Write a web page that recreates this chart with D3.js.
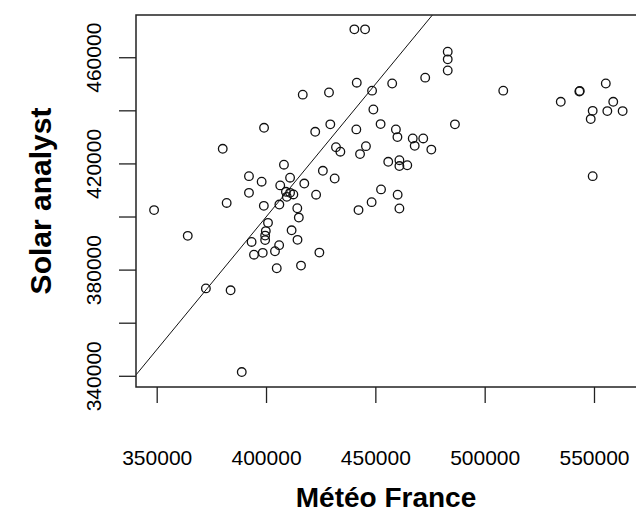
<!DOCTYPE html>
<html>
<head>
<meta charset="utf-8">
<script src="https://cdn.jsdelivr.net/npm/d3@7"></script>
<style>
html,body{margin:0;padding:0;background:#fff;}
svg{display:block;}
text{font-family:"Liberation Sans",Arial,Helvetica,sans-serif;fill:#000;}
</style>
</head>
<body>
<svg id="chart" width="636" height="517"></svg>
<script>
// Data
const meteoFrance = [440400,445300,483100,483100,483100,472800,441500,457700,416800,428800,
  448500,508500,449100,399100,422500,429400,441300,452400,459400,460100,
  467100,471900,468000,475600,486400,380200,432000,434000,445700,443000,
  455900,461000,461000,464600,408200,392200,398000,411000,406500,417500,
  426000,431400,392200,409100,411000,412500,409500,422900,452600,460200,
  382000,399000,406100,414300,415000,442300,448300,461000,348800,364200,
  400900,399900,399600,399600,393400,411700,414400,406000,404100,394500,
  398500,424400,404900,416000,372500,383800,388900,534800,543300,543500,
  555400,558800,549400,548500,556100,563100,549400];
const solarAnalyst = [470700,470700,462300,459400,455200,452500,450600,450300,446100,446900,
  447600,447600,440500,433600,432100,434900,433000,435000,433000,430100,
  429600,429600,426800,425400,434900,425700,426300,424600,426700,423700,
  420800,421400,419200,419500,419700,415400,413300,414800,411900,412600,
  417400,414500,409100,409500,409100,408500,407600,408400,410400,408400,
  405300,404200,404700,403300,399800,402600,405600,403200,402600,392900,
  397800,394700,393000,391300,390600,395000,391400,389400,387100,385800,
  386500,386600,380700,381700,373100,372400,341600,443400,447300,447500,
  450300,443400,440000,436900,439900,439900,415400];
const xTicks = [350000,400000,450000,500000,550000];
const yTicks = [340000,360000,380000,400000,420000,440000,460000];
const yTickLabels = ["340000","","380000","","420000","","460000"];
const xDomain = [340533, 571041];
const yDomain = [335966, 476098];
const lineIntercept = 0, lineSlope = 1;
const xTitle = "Météo France";
const yTitle = "Solar analyst";

const svg = d3.select("#chart");
const box = {left:136, top:15, right:640, bottom:387};

const x = d3.scaleLinear().domain(xDomain).range([box.left, box.right]);
const y = d3.scaleLinear().domain(yDomain).range([box.bottom, box.top]);

svg.append("defs").append("clipPath").attr("id","clip")
  .append("rect").attr("x",box.left).attr("y",box.top)
  .attr("width",box.right-box.left).attr("height",box.bottom-box.top);

// axes
const xAxis = svg.append("g").attr("transform",`translate(0,${box.bottom})`)
  .call(d3.axisBottom(x).tickValues(xTicks).tickFormat(d3.format("d")).tickSizeOuter(0).tickSizeInner(16).tickPadding(47));
const yAxis = svg.append("g").attr("transform",`translate(${box.left},0)`)
  .call(d3.axisLeft(y).tickValues(yTicks).tickFormat((d,i)=>yTickLabels[i]).tickSizeOuter(0).tickSizeInner(17));
[xAxis,yAxis].forEach(g=>{
  g.select(".domain").remove();
  g.selectAll(".tick line").attr("stroke","#222").attr("stroke-width",1.3);
  g.selectAll(".tick text").attr("font-size",21).attr("fill","#000");
});
yAxis.selectAll(".tick text")
  .attr("transform",function(d){return `translate(${93-box.left},${y(d)}) rotate(-90)`;})
  .attr("x",0).attr("y",0).attr("dy","0.36em").attr("text-anchor","middle");
yAxis.selectAll(".tick").attr("transform",null);
yAxis.selectAll(".tick line").attr("transform",d=>`translate(0,${y(d)})`);

// reference line y = a + b x
const plot = svg.append("g").attr("clip-path","url(#clip)");
plot.append("line")
  .attr("x1",x(xDomain[0])).attr("y1",y(lineIntercept+lineSlope*xDomain[0]))
  .attr("x2",x(xDomain[1])).attr("y2",y(lineIntercept+lineSlope*xDomain[1]))
  .attr("stroke","#111").attr("stroke-width",1);

// points
plot.selectAll("circle").data(meteoFrance.map((v,i)=>[v,solarAnalyst[i]]))
  .enter().append("circle")
  .attr("cx",d=>x(d[0])).attr("cy",d=>y(d[1])).attr("r",4.3)
  .attr("fill","none").attr("stroke","#111").attr("stroke-width",1.3);

// box
svg.append("rect").attr("x",box.left).attr("y",box.top)
  .attr("width",box.right-box.left).attr("height",box.bottom-box.top)
  .attr("fill","none").attr("stroke","#222").attr("stroke-width",1.5);

// titles
svg.append("text").attr("x",386).attr("y",507).attr("text-anchor","middle")
  .attr("font-size",28).attr("font-weight","bold").text(xTitle);
svg.append("text").attr("transform","translate(51,201) rotate(-90)").attr("text-anchor","middle")
  .attr("font-size",30).attr("font-weight","bold").text(yTitle);
</script>
</body>
</html>
